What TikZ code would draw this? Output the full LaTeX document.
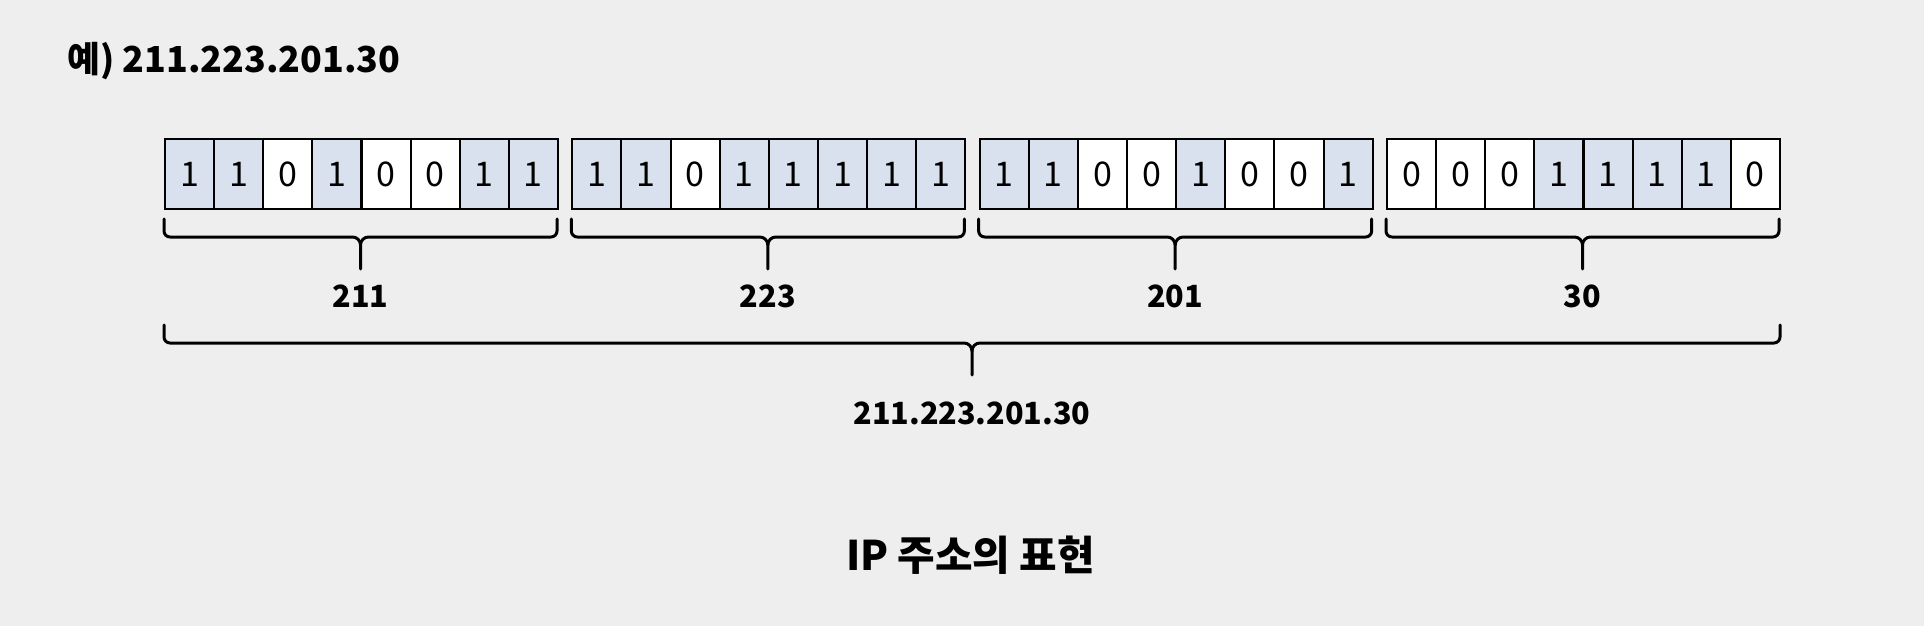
\documentclass[tikz,border=0pt]{standalone}
\usepackage{fontspec}
\setmainfont{Noto Sans CJK KR}
\definecolor{bgc}{RGB}{238,238,238}
\definecolor{cellblue}{RGB}{218,225,238}
\newcommand\ipbrace[5]{%
  \pgfmathsetmacro\xm{(#1+#2)/2}%
  \draw[bracel] (#1,#3) -- (#1,#4-6) to[out=-90,in=180] (#1+6,#4) -- (\xm-8,#4) to[out=0,in=90] (\xm,#4+8) -- (\xm,#5);
  \draw[bracel] (#2,#3) -- (#2,#4-6) to[out=-90,in=0] (#2-6,#4) -- (\xm+8,#4) to[out=180,in=90] (\xm,#4+8);
}
\begin{document}
\begin{tikzpicture}[x=0.5pt,y=-0.5pt,
  cell/.style={draw=black,line width=1pt,minimum width=24.55pt,minimum height=35pt,inner sep=0pt,anchor=north west,font=\fontsize{17}{17}\selectfont},
  bit0/.style={fill=white},
  bit1/.style={fill=cellblue},
  bracel/.style={draw=black,line width=1.5pt,line cap=round,line join=round},
  lab/.style={font=\fontsize{15.3}{16}\selectfont\bfseries,inner sep=0pt}]
\fill[bgc] (0,0) rectangle (1924,626);
\useasboundingbox (0,0) rectangle (1924,626);
\node[anchor=base west,inner sep=0pt,font=\fontsize{17.9}{19}\selectfont\bfseries] (title) at (67,73) {예) 211.223.201.30};
\foreach \g/\bits in {0/{1,1,0,1,0,0,1,1},1/{1,1,0,1,1,1,1,1},2/{1,1,0,0,1,0,0,1},3/{0,0,0,1,1,1,1,0}}{
  \foreach \b [count=\i from 0] in \bits {
    \node[cell,bit\b] (c-\g-\i) at ({164+\g*407.33+\i*49.125},138) {\b};
  }
}
\foreach \g/\v in {0/211,1/223,2/201,3/30}{
  \pgfmathsetmacro\gl{164+\g*407.33}
  \pgfmathsetmacro\gr{\gl+393}
  \ipbrace{\gl}{\gr}{219}{237}{269}
  \node[lab] (v-\g) at ({\gl+196.5},296) {\v};
}
\ipbrace{164}{1780}{325}{343}{375}
\node[lab] (all) at (972,413) {211.223.201.30};
\node[inner sep=0pt,font=\fontsize{20.4}{21}\selectfont\bfseries] (cap) at (970.5,555) {IP 주소의 표현};
\end{tikzpicture}
\end{document}
